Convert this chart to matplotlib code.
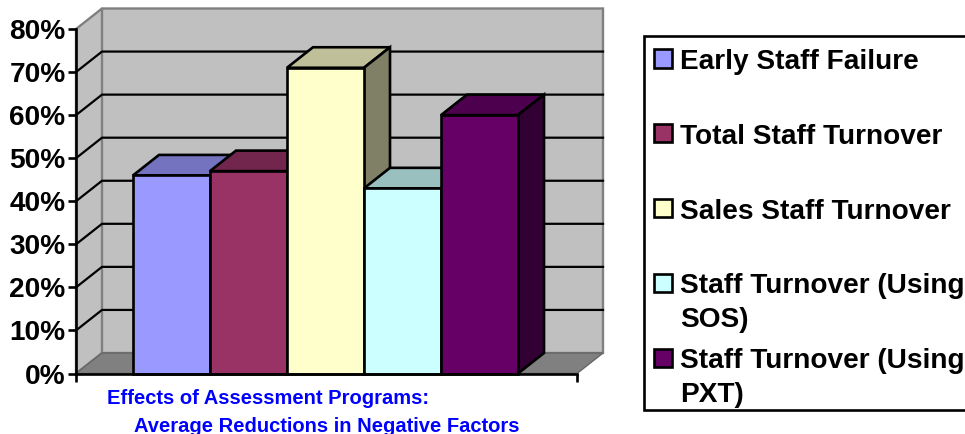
import matplotlib
matplotlib.use('Agg')
import numpy as np
from matplotlib import pyplot as plt
from matplotlib.patches import Polygon, Rectangle

plt.rcParams['font.family'] = ['Liberation Sans', 'DejaVu Sans']
plt.rcParams['font.weight'] = 'bold'

labels = ['Early Staff Failure', 'Total Staff Turnover', 'Sales Staff Turnover',
          'Staff Turnover (Using\nSOS)', 'Staff Turnover (Using\nPXT)']
values = [46, 47, 71, 43, 60]
colors = ['#9999FF', '#993366', '#FFFFCC', '#CCFFFF', '#660066']
yticks = [0, 10, 20, 30, 40, 50, 60, 70, 80]
ytick_labels = ['0%', '10%', '20%', '30%', '40%', '50%', '60%', '70%', '80%']
caption = ['Effects of Assessment Programs:', 'Average Reductions in Negative Factors']

W, H = 965, 434
fig = plt.figure(figsize=(W / 100, H / 100), dpi=100)

left, right, top, bottom = 76, 577, 29, 373.5
ax = fig.add_axes([left / W, 1 - bottom / H, (right - left) / W, (bottom - top) / H])
bar_px = 77
x0 = -(133 + bar_px / 2 - left) / bar_px
ax.set_xlim(x0, x0 + (right - left) / bar_px)
ax.set_ylim(0, 80)

# depth of the fake 3d, in data units
dx = 26 / bar_px
dy = 20.5 * 80 / (bottom - top)
xa, xb = ax.get_xlim()
lw = 1.9


def poly(points, fc, ec='black', lw=lw, z=2):
    ax.add_patch(Polygon(points, closed=True, fc=fc, ec=ec, lw=lw, zorder=z,
                         clip_on=False, joinstyle='miter'))


# walls and floor
poly([(xa, 0), (xa + dx, dy), (xb + dx, dy), (xb + dx, 80 + dy), (xa + dx, 80 + dy), (xa, 80)],
     '#C0C0C0', ec='#808080', lw=1.7, z=1)
ax.plot([xa + dx, xa + dx], [dy, 80 + dy], color='#808080', lw=1.7, zorder=1.1, clip_on=False)
for t in yticks[1:-1]:
    ax.plot([xa, xa + dx, xb + dx], [t, t + dy, t + dy], color='black', lw=1.6, zorder=1.2,
            clip_on=False)
poly([(xa, 0), (xa + dx, dy), (xb + dx, dy), (xb, 0)], '#808080', ec='#666666', lw=1, z=1.3)

# bars, left to right so each one covers the side of the one before
xs = np.arange(len(values))
for x, v, c in zip(xs, values, colors):
    rgb = np.array(matplotlib.colors.to_rgb(c))
    ax.bar(x, v, width=1, color=c, edgecolor='black', linewidth=lw, zorder=2 + x * 0.1 + 0.02,
           clip_on=False)
    l, r = x - 0.5, x + 0.5
    poly([(l, v), (r, v), (r + dx, v + dy), (l + dx, v + dy)], rgb * 0.75, z=2 + x * 0.1)
    poly([(r, 0), (r + dx, dy), (r + dx, v + dy), (r, v)], rgb * 0.5, z=2 + x * 0.1)

ax.patch.set_visible(False)
for s in ['top', 'right']:
    ax.spines[s].set_visible(False)
for s in ['left', 'bottom']:
    ax.spines[s].set_linewidth(lw)
    ax.spines[s].set_zorder(5)
ax.set_yticks(yticks)
ax.set_yticklabels(ytick_labels, fontsize=20.2, fontweight='bold')
ax.set_xticks([xa, xb])
ax.set_xticklabels([])
ax.tick_params(axis='both', width=lw, length=5.5, pad=2)

# caption under the plot
fig.text(107 / W, 1 - 398 / H, caption[0], color='#0000FF', fontsize=14.5, fontweight='bold',
         va='center')
fig.text(134 / W, 1 - 426 / H, caption[1], color='#0000FF', fontsize=14.5, fontweight='bold',
         va='center')

# legend, boxed by hand because the entries are evenly spaced
fig.add_artist(Rectangle((644 / W, 1 - 410 / H), 340 / W, 374 / H, transform=fig.transFigure,
                         fc='white', ec='black', lw=lw, zorder=0))
for i, (lab, c) in enumerate(zip(labels, colors)):
    yc = 58.5 + i * 74.8
    fig.add_artist(Rectangle((654 / W, 1 - (yc + 9) / H), 18 / W, 18 / H, transform=fig.transFigure,
                             fc=c, ec='black', lw=lw, zorder=1))
    fig.text(680 / W, 1 - (yc - 9.5) / H, lab, fontsize=20.2, fontweight='bold', va='top', ha='left',
             linespacing=1.4, zorder=2)

fig.savefig('out.png', dpi=100)
